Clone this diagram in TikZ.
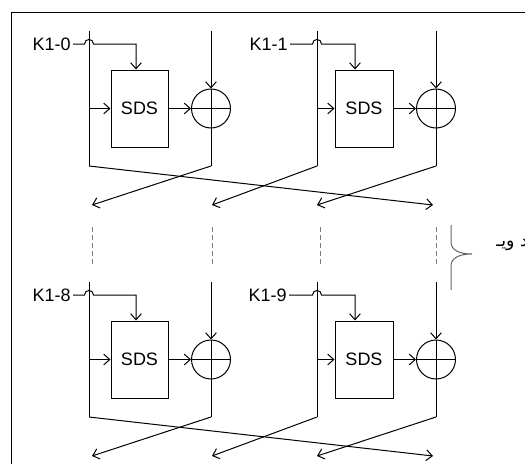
\documentclass[tikz,border=0pt]{standalone}
\usepackage{fontspec}
\setmainfont{Liberation Sans}
\newfontfamily\arabicfont[Script=Arabic]{DejaVu Sans}
\TeXXeTstate=1
\usetikzlibrary{arrows.meta}

\tikzset{
  ln/.style={line width=0.75pt, draw=black},
  arr/.style={ln, -{Straight Barb[length=4.5pt,width=8pt]}},
  sdsbox/.style={draw, line width=0.75pt, inner sep=0pt, font=\fontsize{13.5}{16}\selectfont},
  xorc/.style={draw, circle, line width=0.75pt, minimum size=29.25pt, inner sep=0pt},
  klabel/.style={font=\fontsize{13.5}{16}\selectfont, inner sep=1.5pt, anchor=east},
  dsh/.style={draw=gray, line width=0.75pt, dash pattern=on 3.75pt off 2.25pt},
  brc/.style={draw=gray!80!black, line width=0.75pt},
}

% #1 name, #2 left x, #3 right x, #4 box left, #5 box right, #6 key turn x, #7 y shift, #8 label, #9 label east x
\newcommand\fblock[9]{%
  \begin{scope}[shift={(0,#7)}]
    \coordinate (#1-lt) at (#2,31);
    \coordinate (#1-lb) at (#2,166);
    \coordinate (#1-rt) at (#3,31);
    \coordinate (#1-rb) at (#3,166);
    \coordinate (#1-kt) at (#6,44);
    \coordinate (#1-h1) at (#2-4.5,44);
    \coordinate (#1-h2) at (#2+4.5,44);
    \node[sdsbox, minimum width={(#5-#4)*0.75pt}, minimum height=57.75pt] (#1-box) at ({(#4+#5)/2},108.5) {SDS};
    \node[xorc] (#1-x) at (#3,108.5) {};
    \node[klabel] (#1-k) at (#9,44) {#8};
    \draw[ln] (#1-lt) -- (#1-lb);
    \draw[arr] (#1-rt) -- (#1-x.north);
    \draw[ln] (#1-x.north) -- (#1-rb);
    \draw[arr] (#1-k.east) -- (#1-h1) .. controls +(0,-6) and +(0,-6) .. (#1-h2) -- (#1-kt) -- (#1-kt |- #1-box.north);
    \draw[arr] (#1-lt |- #1-box.west) -- (#1-box.west);
    \draw[arr] (#1-box.east) -- (#1-x.west);
    \draw[ln] (#1-x.west) -- (#1-x.east);
  \end{scope}}

\begin{document}
\begin{tikzpicture}[x=0.75pt, y=-0.75pt]
  \useasboundingbox (0,0) rectangle (525,464);
  \fill[white] (0,0) rectangle (525,464);
  % frame
  \coordinate (fbl) at (11,470);
  \coordinate (ftl) at (11,12);
  \coordinate (ftr) at (530,12);
  \draw[ln] (fbl) -- (ftl) -- (ftr);

  \fblock{b1}{89}{211}{111}{168}{136}{0}{K1-0}{73}
  \fblock{b2}{317}{436}{335}{393}{355}{0}{K1-1}{290}
  \fblock{b3}{89}{211}{111}{168}{136}{251}{K1-8}{73}
  \fblock{b4}{317}{436}{335}{393}{355}{251}{K1-9}{289}

  % crossing outputs, top
  \coordinate (a1) at (92,205);
  \coordinate (a2) at (212,205);
  \coordinate (a3) at (317,205);
  \coordinate (a4) at (433,205);
  \draw[arr] (b1-lb) -- (a4);
  \draw[arr] (b1-rb) -- (a1);
  \draw[arr] (b2-lb) -- (a2);
  \draw[arr] (b2-rb) -- (a3);

  % crossing outputs, bottom
  \coordinate (c1) at (92,456);
  \coordinate (c2) at (212,456);
  \coordinate (c3) at (317,456);
  \coordinate (c4) at (433,456);
  \draw[arr] (b3-lb) -- (c4);
  \draw[arr] (b3-rb) -- (c1);
  \draw[arr] (b4-lb) -- (c2);
  \draw[arr] (b4-rb) -- (c3);

  % dashed continuation lines
  \foreach \i/\xx in {1/92, 2/212, 3/320, 4/436} {
    \coordinate (d\i t) at (\xx,227);
    \coordinate (d\i b) at (\xx,264);
    \draw[dsh] (d\i t) -- (d\i b);
  }

  % brace
  \coordinate (bt) at (451,225);
  \coordinate (bm) at (472,254);
  \coordinate (bb) at (451,290);
  \draw[brc] (bt) -- (451,242) .. controls (451,250) and (459,254) .. (bm)
             .. controls (459,254) and (451,258) .. (451,266) -- (bb);
  \node[font=\arabicfont\fontsize{13}{15}\selectfont, anchor=west, inner sep=0pt] (rnd) at (496,245) {\beginR د ویـ\endR};
\end{tikzpicture}
\end{document}
